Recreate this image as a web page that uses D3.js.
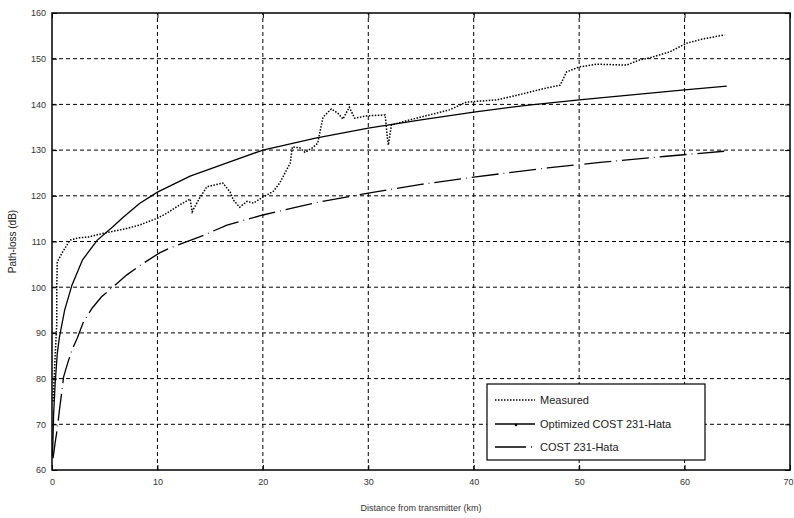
<!DOCTYPE html>
<html>
<head>
<meta charset="utf-8">
<script src="https://cdn.jsdelivr.net/npm/d3@7"></script>
<style>
  body { margin: 0; background: #fff; }
  svg { display: block; font-family: "Liberation Sans", Arial, sans-serif; }
</style>
</head>
<body>
<script>
// values
let xTicks = [0, 10, 20, 30, 40, 50, 60, 70]
let yTicks = [60, 70, 80, 90, 100, 110, 120, 130, 140, 150, 160]

let measuredX = [0.1, 0.3, 0.45, 0.45, 0.5, 0.95, 1.7, 2.5, 3.5, 4.5, 5.5, 7, 8.3, 10, 10.9, 12.1, 13.1, 13.3, 13.4, 14, 14.7, 15.5, 16.2, 16.9, 17.2, 17.8, 18.5, 19.1, 20, 21, 21.6, 22.6, 22.8, 23.5, 24, 24.7, 25.2, 25.7, 26.5, 27.1, 27.6, 28.2, 28.7, 29.9, 31.6, 31.8, 31.9, 32.2, 33.9, 35.8, 37.7, 39.3, 42.2, 44.1, 46.9, 48.2, 48.8, 50, 51.7, 54.5, 55.7, 56.7, 58.6, 60.2, 61.7, 63.8]
let measuredY = [75, 85, 92, 100, 105.5, 107.5, 110.3, 110.8, 111, 111.6, 112.1, 112.8, 113.6, 115.1, 116.2, 118, 119.3, 116.5, 117, 119.5, 122, 122.4, 122.8, 120.8, 119.1, 117.5, 118.8, 118.4, 119.7, 121, 122.8, 127.2, 130.7, 130.5, 129.5, 130.5, 131.5, 137.2, 139, 138.1, 136.8, 139.4, 137, 137.5, 137.7, 132.9, 131.1, 135.5, 136.6, 137.7, 138.8, 140.5, 141, 142, 143.6, 144.2, 147.1, 148.2, 148.8, 148.6, 149.7, 150.2, 151.5, 153.4, 154.3, 155.2]

let optX = [0.05, 0.15, 0.3, 0.5, 0.7, 1.2, 1.9, 2.9, 4.3, 5.8, 6.7, 8.3, 10, 13.1, 16.6, 20, 25, 30, 35, 40, 45, 50, 55, 60, 64]
let optY = [63, 72, 79, 85.5, 89, 95, 100.5, 106, 110.3, 113.3, 115.2, 118.3, 120.8, 124.3, 127.2, 130, 132.6, 134.8, 136.6, 138.3, 139.8, 141, 142.1, 143.2, 144]

let costX = [0.1, 0.3, 0.5, 0.7, 0.95, 1.1, 1.5, 1.9, 2.4, 3, 3.8, 4.7, 6, 7.1, 8.5, 10.2, 11.2, 14, 16.6, 20, 25, 30, 35, 40, 47, 52, 58, 64]
let costY = [62.6, 66, 69, 73, 77.5, 80.4, 83.5, 86.3, 88.9, 92.5, 95.4, 97.9, 100.5, 102.7, 105, 107.5, 108.6, 111, 113.6, 115.8, 118.5, 120.6, 122.5, 124.1, 126.1, 127.3, 128.6, 129.8]

let legendNames = ['Measured', 'Optimized COST 231-Hata', 'COST 231-Hata']

let width = 794
let height = 518
let margin = { top: 13, right: 4, bottom: 48, left: 52 }

const svg = d3.select('body')
  .append('svg')
  .attr('width', width)
  .attr('height', height)

const x = d3.scaleLinear()
  .domain([0, 70])
  .range([margin.left, width - margin.right])

const y = d3.scaleLinear()
  .domain([60, 160])
  .range([height - margin.bottom, margin.top])

// grid
svg.append('g')
  .selectAll('line')
  .data(xTicks.slice(1, -1))
  .join('line')
  .attr('x1', d => x(d)).attr('x2', d => x(d))
  .attr('y1', y(60)).attr('y2', y(160))
  .attr('stroke', '#000')
  .attr('stroke-dasharray', '4,3')

svg.append('g')
  .selectAll('line')
  .data(yTicks.slice(1, -1))
  .join('line')
  .attr('y1', d => y(d)).attr('y2', d => y(d))
  .attr('x1', x(0)).attr('x2', x(70))
  .attr('stroke', '#000')
  .attr('stroke-dasharray', '4,3')

// axes
const xAxis = d3.axisBottom(x).tickValues(xTicks).tickSize(-5).tickPadding(9)
const yAxis = d3.axisLeft(y).tickValues(yTicks).tickSize(-5).tickPadding(6)

svg.append('g')
  .attr('transform', `translate(0,${y(60)})`)
  .call(xAxis)
  .call(g => g.select('.domain').remove())
  .call(g => g.selectAll('text').attr('font-size', 9).attr('fill', '#333'))
  .call(g => g.selectAll('text').filter(d => d == 70).attr('text-anchor', 'end').attr('dx', 3))

svg.append('g')
  .attr('transform', `translate(${x(0)},0)`)
  .call(yAxis)
  .call(g => g.select('.domain').remove())
  .call(g => g.selectAll('text').attr('font-size', 9).attr('fill', '#333'))

// ticks on top and right
svg.append('g')
  .attr('transform', `translate(0,${y(160)})`)
  .call(d3.axisTop(x).tickValues(xTicks).tickSize(-5).tickFormat(''))
  .call(g => g.select('.domain').remove())

svg.append('g')
  .attr('transform', `translate(${x(70)},0)`)
  .call(d3.axisRight(y).tickValues(yTicks).tickSize(-5).tickFormat(''))
  .call(g => g.select('.domain').remove())

svg.append('rect')
  .attr('x', x(0)).attr('y', y(160))
  .attr('width', x(70) - x(0)).attr('height', y(60) - y(160))
  .attr('fill', 'none')
  .attr('stroke', '#000')
  .attr('stroke-width', 1.5)

// lines
const line = d3.line()
  .x(d => x(d[0]))
  .y(d => y(d[1]))

const measured = measuredX.map((v, i) => [v, measuredY[i]])
const optimized = optX.map((v, i) => [v, optY[i]])
const cost = costX.map((v, i) => [v, costY[i]])

svg.append('path')
  .datum(cost)
  .attr('d', line)
  .attr('fill', 'none')
  .attr('stroke', '#000')
  .attr('stroke-width', 1.3)
  .attr('stroke-dasharray', '27,5,0.8,5')

svg.append('path')
  .datum(optimized)
  .attr('d', line)
  .attr('fill', 'none')
  .attr('stroke', '#000')
  .attr('stroke-width', 1.3)

svg.append('path')
  .datum(measured)
  .attr('d', line)
  .attr('fill', 'none')
  .attr('stroke', '#000')
  .attr('stroke-width', 1.5)
  .attr('stroke-dasharray', '1.5,1.5')

// axis labels
svg.append('text')
  .attr('x', (x(0) + x(70)) / 2)
  .attr('y', 511)
  .attr('text-anchor', 'middle')
  .attr('font-size', 9)
  .attr('fill', '#333')
  .text('Distance from transmitter (km)')

svg.append('text')
  .attr('transform', `translate(16,${(y(60) + y(160)) / 2}) rotate(-90)`)
  .attr('text-anchor', 'middle')
  .attr('font-size', 10)
  .attr('fill', '#222')
  .text('Path-loss (dB)')

// legend
const legend = svg.append('g')

legend.append('rect')
  .attr('x', 487).attr('y', 384)
  .attr('width', 218).attr('height', 76)
  .attr('fill', '#fff')
  .attr('stroke', '#000')
  .attr('stroke-width', 1.2)

const rows = [400, 424, 447]
const dashes = ['1.5,1.5', null, '31,5,1,5']

legendNames.forEach((name, i) => {
  legend.append('line')
    .attr('x1', 495).attr('x2', 535)
    .attr('y1', rows[i]).attr('y2', rows[i])
    .attr('stroke', '#000')
    .attr('stroke-width', i == 0 ? 1.5 : 1.3)
    .attr('stroke-dasharray', dashes[i])
  legend.append('text')
    .attr('x', 540)
    .attr('y', rows[i] + 4)
    .attr('font-size', 11)
    .attr('fill', '#222')
    .text(name)
})

legend.append('circle')
  .attr('cx', 516).attr('cy', rows[1] + 1)
  .attr('r', 1.3)
  .attr('fill', '#000')
</script>
</body>
</html>
